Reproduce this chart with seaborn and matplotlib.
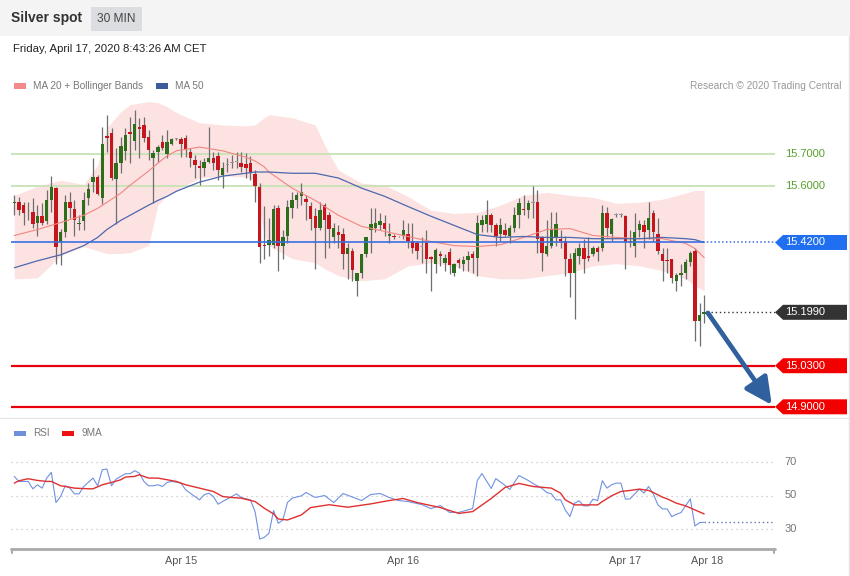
import numpy as np
import pandas as pd
import seaborn as sns
import matplotlib.pyplot as plt
from matplotlib.patches import Rectangle, Polygon

# ---- 30 min candles, Silver spot (index 1..150) ----
opens = [15.544,15.547,15.538,15.518,15.515,15.483,15.503,15.487,15.553,15.592,
         15.420,15.452,15.547,15.525,15.477,15.487,15.560,15.611,15.627,15.560,
         15.757,15.767,15.621,15.671,15.710,15.770,15.741,15.786,15.792,15.754,
         15.687,15.706,15.738,15.700,15.732,15.748,15.748,15.751,15.706,15.681,
         15.662,15.655,15.675,15.687,15.694,15.633,15.665,15.671,15.675,15.671,
         15.668,15.671,15.636,15.595,15.413,15.413,15.413,15.528,15.410,15.442,
         15.528,15.553,15.566,15.557,15.534,15.503,15.467,15.538,15.506,15.436,
         15.452,15.448,15.385,15.394,15.299,15.324,15.385,15.458,15.467,15.474,
         15.483,15.439,15.442,15.439,15.439,15.448,15.426,15.417,15.407,15.417,
         15.375,15.353,15.385,15.356,15.391,15.324,15.366,15.353,15.366,15.385,
         15.372,15.474,15.480,15.506,15.474,15.448,15.458,15.442,15.467,15.506,
         15.525,15.522,15.544,15.547,15.436,15.385,15.410,15.436,15.432,15.426,
         15.369,15.324,15.378,15.401,15.378,15.385,15.401,15.401,15.512,15.448,
         15.506,15.506,15.503,15.426,15.410,15.458,15.474,15.458,15.512,15.448,
         15.385,15.366,15.369,15.299,15.318,15.324,15.359,15.394,15.171,15.194]
highs = [15.569,15.563,15.547,15.547,15.560,15.538,15.544,15.585,15.630,15.595,
         15.464,15.569,15.579,15.553,15.506,15.579,15.608,15.687,15.633,15.786,
         15.824,15.783,15.719,15.754,15.783,15.818,15.840,15.815,15.818,15.776,
         15.713,15.729,15.761,15.776,15.751,15.751,15.754,15.761,15.719,15.697,
         15.681,15.687,15.786,15.706,15.706,15.675,15.687,15.697,15.706,15.706,
         15.703,15.694,15.649,15.608,15.534,15.499,15.538,15.538,15.458,15.553,
         15.579,15.579,15.608,15.569,15.547,15.528,15.547,15.544,15.515,15.483,
         15.474,15.467,15.417,15.404,15.324,15.385,15.436,15.528,15.528,15.512,
         15.506,15.483,15.448,15.442,15.490,15.483,15.483,15.426,15.436,15.458,
         15.378,15.401,15.394,15.385,15.401,15.356,15.372,15.378,15.394,15.394,
         15.506,15.506,15.553,15.512,15.483,15.496,15.483,15.474,15.531,15.560,
         15.569,15.553,15.598,15.585,15.442,15.490,15.515,15.515,15.458,15.442,
         15.388,15.401,15.417,15.432,15.436,15.410,15.410,15.538,15.531,15.499,
         15.512,15.512,15.506,15.458,15.512,15.490,15.490,15.547,15.522,15.496,
         15.404,15.404,15.369,15.324,15.353,15.369,15.394,15.401,15.229,15.254]
lows = [15.506,15.506,15.474,15.490,15.467,15.442,15.474,15.480,15.515,15.353,
        15.350,15.436,15.496,15.442,15.458,15.458,15.538,15.579,15.569,15.541,
        15.706,15.617,15.480,15.640,15.681,15.671,15.713,15.687,15.738,15.681,
        15.544,15.675,15.713,15.687,15.729,15.745,15.690,15.690,15.659,15.624,
        15.601,15.630,15.671,15.649,15.617,15.592,15.643,15.655,15.655,15.643,
        15.624,15.617,15.547,15.356,15.369,15.378,15.404,15.331,15.369,15.417,
        15.499,15.528,15.538,15.490,15.458,15.337,15.458,15.372,15.401,15.417,
        15.401,15.337,15.305,15.299,15.251,15.308,15.375,15.388,15.452,15.458,
        15.442,15.417,15.432,15.436,15.432,15.404,15.388,15.369,15.356,15.324,
        15.267,15.324,15.346,15.331,15.321,15.315,15.340,15.331,15.331,15.324,
        15.315,15.452,15.452,15.452,15.410,15.426,15.442,15.417,15.452,15.467,
        15.506,15.499,15.499,15.388,15.331,15.378,15.404,15.410,15.404,15.315,
        15.248,15.178,15.353,15.324,15.362,15.378,15.362,15.394,15.436,15.426,
        15.500,15.500,15.337,15.407,15.375,15.436,15.404,15.432,15.426,15.385,
        15.299,15.324,15.292,15.267,15.283,15.305,15.346,15.108,15.092,15.165]
closes = [15.547,15.522,15.512,15.515,15.480,15.503,15.483,15.553,15.595,15.407,
          15.452,15.547,15.528,15.490,15.483,15.553,15.589,15.627,15.573,15.732,
          15.751,15.624,15.671,15.725,15.761,15.764,15.796,15.780,15.751,15.713,
          15.703,15.722,15.719,15.738,15.748,15.748,15.732,15.713,15.687,15.665,
          15.655,15.675,15.687,15.671,15.649,15.655,15.665,15.671,15.675,15.659,
          15.655,15.643,15.598,15.407,15.410,15.429,15.525,15.410,15.436,15.531,
          15.553,15.569,15.579,15.547,15.493,15.467,15.522,15.490,15.464,15.467,
          15.445,15.385,15.401,15.334,15.324,15.385,15.436,15.480,15.483,15.487,
          15.464,15.448,15.436,15.439,15.458,15.426,15.401,15.394,15.407,15.369,
          15.369,15.397,15.378,15.372,15.350,15.353,15.356,15.366,15.378,15.372,
          15.483,15.490,15.506,15.474,15.442,15.474,15.445,15.467,15.506,15.544,
          15.522,15.544,15.544,15.432,15.388,15.410,15.464,15.480,15.426,15.369,
          15.324,15.388,15.401,15.369,15.372,15.404,15.391,15.512,15.467,15.493,
          15.506,15.506,15.420,15.420,15.452,15.480,15.452,15.499,15.452,15.394,
          15.362,15.362,15.308,15.318,15.324,15.359,15.388,15.171,15.190,15.199]

# ---- MA 20 + Bollinger Bands, MA 50 (read at these candle indices) ----
band_idx = [1,6,11,16,19,21,24,26,30,32,34,36,41,46,51,53,55,56,61,66,68,71,76,81,86,
            91,96,101,106,111,116,121,126,131,136,141,146,148,150]
bb_upper = [15.569,15.598,15.617,15.604,15.665,15.783,15.834,15.856,15.866,15.862,
            15.850,15.831,15.799,15.792,15.789,15.792,15.815,15.824,15.815,15.792,
            15.729,15.649,15.608,15.601,15.566,15.522,15.512,15.515,15.538,15.569,
            15.579,15.569,15.563,15.544,15.547,15.557,15.576,15.585,15.585]
bb_lower = [15.305,15.308,15.378,15.407,15.394,15.385,15.385,15.388,15.410,15.538,
            15.569,15.585,15.624,15.630,15.627,15.617,15.442,15.410,15.369,15.356,
            15.337,15.315,15.299,15.305,15.346,15.356,15.346,15.315,15.305,15.305,
            15.315,15.324,15.346,15.353,15.346,15.331,15.305,15.283,15.267]
ma20 = [15.442,15.461,15.483,15.506,15.528,15.547,15.576,15.601,15.646,15.671,
        15.694,15.710,15.722,15.710,15.690,15.678,15.659,15.643,15.592,15.553,
        15.534,15.506,15.471,15.455,15.439,15.423,15.410,15.407,15.413,15.436,
        15.461,15.464,15.442,15.436,15.432,15.432,15.417,15.401,15.372]
ma50 = [15.340,15.362,15.381,15.410,15.436,15.461,15.490,15.506,15.538,15.553,
        15.566,15.582,15.611,15.630,15.639,15.643,15.643,15.643,15.639,15.639,
        15.633,15.624,15.592,15.566,15.534,15.503,15.474,15.445,15.436,15.439,
        15.436,15.436,15.432,15.432,15.432,15.436,15.432,15.429,15.420]

# ---- RSI and its 9MA ----
rsi_idx = [1,2,4,5,6,7,8,9,10,11,12,13,14,15,16,18,19,20,21,22,23,25,26,27,28,29,30,31,32,33,
           34,35,37,38,40,41,42,43,44,45,46,48,49,50,52,53,54,55,56,57,58,59,60,61,63,64,66,68,70,72,
           76,78,80,82,84,86,89,91,93,95,97,100,101,102,104,105,107,108,110,112,
           113,115,116,117,118,119,120,121,122,123,124,125,126,127,128,129,130,131,132,133,
           134,135,136,137,138,139,140,141,142,143,144,145,147,148,149,150]
rsi_val = [61.4,58.4,58.4,54,56.4,54.4,60.4,63.8,45.8,49.4,55.8,54.4,51,51,55.4,60.4,55.8,65.4,65.8,55.8,
           59.8,63,63,64.8,63.4,58.4,55.8,55.8,56.4,55.4,57.8,58.4,57.4,53.4,49.4,47.4,50.4,51.4,49.4,44.8,
           46.4,49.4,51,48.8,47.4,40.4,24,25,27.4,41,33.4,35.4,45.8,48.4,49.8,51.8,48.8,50,45.8,51.2,
           47,50.6,51.2,48.8,47,46.4,44.6,42.2,44,39.9,39.9,42.2,59,63.1,54.2,60.1,56,53.6,61.9,59,
           57.2,54.2,51.8,51,47.4,47.4,41.4,37.4,45.4,46.8,43.8,43.8,47.8,47,58.8,54.4,56.4,57.4,57.4,47.8,
           48,51,53.8,51.4,55.4,51,44.4,42,42,37.4,38.8,39.8,48,31.8,33.8,34]
ma9_idx = [1,2,4,6,8,9,11,12,14,17,18,20,22,24,25,27,28,30,32,34,36,38,41,44,46,48,50,53,55,57,
           58,60,61,63,65,69,73,78,82,85,88,93,97,100,104,107,110,113,117,119,
           120,122,123,125,127,128,130,132,134,136,138,139,141,142,144,146,148,150]
ma9_val = [57.4,58.8,60,59,58.4,58.4,55.8,55.4,54.4,54,54,56.4,57.8,59.4,61,61.4,62.4,60.4,60.4,59.4,
           58.4,56.4,54.4,52.4,49.4,48.8,48.4,46.4,42.4,39,36,35.4,36.4,38.4,42.8,44.5,43,45,47,48.2,
           45.8,42.8,39.3,40.4,48.2,54.8,57.2,55.4,54.4,51.4,47.4,44.4,44.4,44.4,44.4,46.4,49.8,52.4,53,53.8,
           53,51.8,49,48,45.4,43.8,41.4,39]

# ---- levels and labels ----
res_levels = [15.70, 15.60]
pivot = 15.42
last_price = 15.199
sup_levels = [15.03, 14.90]
rsi_grid = [70, 50, 30]
day_labels = ['Apr 15', 'Apr 16', 'Apr 17', 'Apr 18']
day_pos = [37, 85, 133, 150.6]

sns.set_theme(style="white")
plt.rcParams['font.family'] = ['Liberation Sans', 'DejaVu Sans']

W, H = 850, 576
fig = plt.figure(figsize=(8.5, 5.76), dpi=100)
fx = lambda px: px / W
fy = lambda py: 1 - py / H

# header bar + frame
fig.add_artist(Rectangle((0, fy(36)), 1, 36 / H, transform=fig.transFigure,
                         color='#f4f4f4', lw=0, zorder=0))
fig.add_artist(Rectangle((fx(91), fy(31)), fx(51), 24 / H, transform=fig.transFigure,
                         color='#dcdde0', lw=0, zorder=1))
fig.text(fx(11), fy(18), 'Silver spot', fontsize=10, fontweight='bold', color='#333333', va='center')
fig.text(fx(116.5), fy(19), '30 MIN', fontsize=8.6, color='#444444', va='center', ha='center')
fig.text(fx(13), fy(48.5), 'Friday, April 17, 2020 8:43:26 AM CET', fontsize=8.2, color='#222222', va='center')
fig.add_artist(plt.Line2D([fx(848.5), fx(848.5)], [fy(36), 0], transform=fig.transFigure, color='#e4e4e4', lw=1))
fig.add_artist(plt.Line2D([0, 1], [fy(418), fy(418)], transform=fig.transFigure, color='#e6e6e6', lw=1))

# legends
def legend_item(x0, y, color, label):
    fig.add_artist(Rectangle((fx(x0), fy(y + 2.5)), fx(12), 5 / H, transform=fig.transFigure,
                             color=color, lw=0))
    fig.text(fx(x0 + 19), fy(y), label, fontsize=7.2, color='#777777', va='center')

legend_item(14, 86, '#f28a8a', 'MA 20 + Bollinger Bands')
legend_item(156, 86, '#3c5c9c', 'MA 50')
legend_item(14, 433, '#6f8fdc', 'RSI')
legend_item(62, 433, '#ee1111', '9MA')
fig.text(fx(841), fy(86), 'Research \u00a9 2020 Trading Central', fontsize=7.3, color='#999999',
         va='center', ha='right')

# ---- main price panel ----
X0 = 1 + (11 - 14.3) / 4.63
X1 = 1 + (775 - 14.3) / 4.63
ax = fig.add_axes([fx(11), fy(415), 764 / W, 320 / H])
ax.set_xlim(X0, X1)
ax.set_ylim(15.70 - 261 / 316, 15.70 + 59 / 316)
ax.set_axis_off()

ax.fill_between(band_idx, bb_lower, bb_upper, color='#fde2e2', lw=0, zorder=1)
ma_df = pd.DataFrame({'idx': band_idx, 'ma20': ma20, 'ma50': ma50})
sns.lineplot(data=ma_df, x='idx', y='ma20', ax=ax, color='#f0867f', lw=0.8, zorder=4)
sns.lineplot(data=ma_df, x='idx', y='ma50', ax=ax, color='#4d68ad', lw=0.9, zorder=4)

# candles
xs = np.arange(1, len(opens) + 1)
o = np.array(opens); c = np.array(closes)
colors = np.where(c > o, '#2c6e1c', np.where(c < o, '#c4161c', '#999999'))
bottoms = np.minimum(o, c)
heights = np.maximum(np.abs(c - o), 0.0028)
ax.vlines(xs, lows, highs, color='#6e6e6e', lw=0.9, zorder=2)
ax.bar(xs, heights, bottom=bottoms, width=0.74, color=colors, lw=0, zorder=3)

# horizontal levels
for lv in res_levels:
    ax.plot([X0, X1], [lv, lv], color='#c7e2b4', lw=1.3, zorder=1.5)
    ax.text(167.4, lv, f'{lv:.4f}', color='#58a02c', fontsize=8, va='center', clip_on=False)
ax.plot([X0, 149.8], [pivot, pivot], color='#3a6fe0', lw=1.2, zorder=5)
ax.plot([149.8, X1], [pivot, pivot], color='#3a6fe0', lw=1.1, ls=(0, (1, 1.5)), zorder=5)
ax.plot([151.5, X1], [last_price, last_price], color='#333333', lw=1, ls=(0, (1, 2)), zorder=5)
for lv in sup_levels:
    ax.plot([X0, X1], [lv, lv], color='#e8000b', lw=1.6, zorder=5)

def tag(y, color, txt):
    hh = 7.5 / 316
    x_tip, x_sh, x_end = X1, 1 + (783 - 14.3) / 4.63, 1 + (847 - 14.3) / 4.63
    ax.add_patch(Polygon([(x_tip, y), (x_sh, y + hh), (x_end, y + hh), (x_end, y - hh), (x_sh, y - hh)],
                         closed=True, color=color, lw=0, clip_on=False, zorder=6))
    ax.text(167.4, y, txt, color='white', fontsize=8, va='center', clip_on=False, zorder=7)

tag(pivot, '#1f6ff0', f'{pivot:.4f}')
tag(last_price, '#333333', f'{last_price:.4f}')
for lv in sup_levels:
    tag(lv, '#f20000', f'{lv:.4f}')

ax.annotate('', xy=(164.6, 14.906), xytext=(150.8, 15.197),
            arrowprops=dict(arrowstyle='-|>,head_length=0.9,head_width=0.45', color='#30609e',
                            lw=3.4, mutation_scale=18, shrinkA=0, shrinkB=0), zorder=8)

# ---- RSI panel ----
rax = fig.add_axes([fx(11), fy(549), 764 / W, 104 / H])
rax.set_xlim(X0, X1)
r_lo = 50 - (549 - 495.5) / 1.675
rax.set_ylim(r_lo, 50 + (495.5 - 445) / 1.675)
rax.set_axis_off()
for g in rsi_grid:
    rax.plot([X0, X1], [g, g], color='#c4c4c4', lw=0.9, ls=(0, (1, 3)), zorder=1)
    rax.text(167.4, g, str(g), color='#777777', fontsize=8, va='center', clip_on=False)
sns.lineplot(x=rsi_idx, y=rsi_val, ax=rax, color='#7090e0', lw=0.8, zorder=3)
sns.lineplot(x=ma9_idx, y=ma9_val, ax=rax, color='#e03030', lw=1.0, zorder=4)
rax.plot([rsi_idx[-1], X1], [rsi_val[-1], rsi_val[-1]], color='#6677aa', lw=1, ls=(0, (1, 2)), zorder=2)

# time axis
rax.plot([X0, X1], [r_lo, r_lo], color='#aaaaaa', lw=2, clip_on=False, zorder=5)
for xe in (X0 + 0.15, X1 - 0.15):
    rax.plot([xe, xe], [r_lo, r_lo - 4 / 1.675], color='#aaaaaa', lw=1.5, clip_on=False, zorder=5)
for lab, p in zip(day_labels, day_pos):
    rax.text(p, 50 - (561 - 495.5) / 1.675, lab, color='#555555', fontsize=7.8,
             ha='center', va='center', clip_on=False)

fig.savefig('out.png', dpi=100, facecolor='white')
